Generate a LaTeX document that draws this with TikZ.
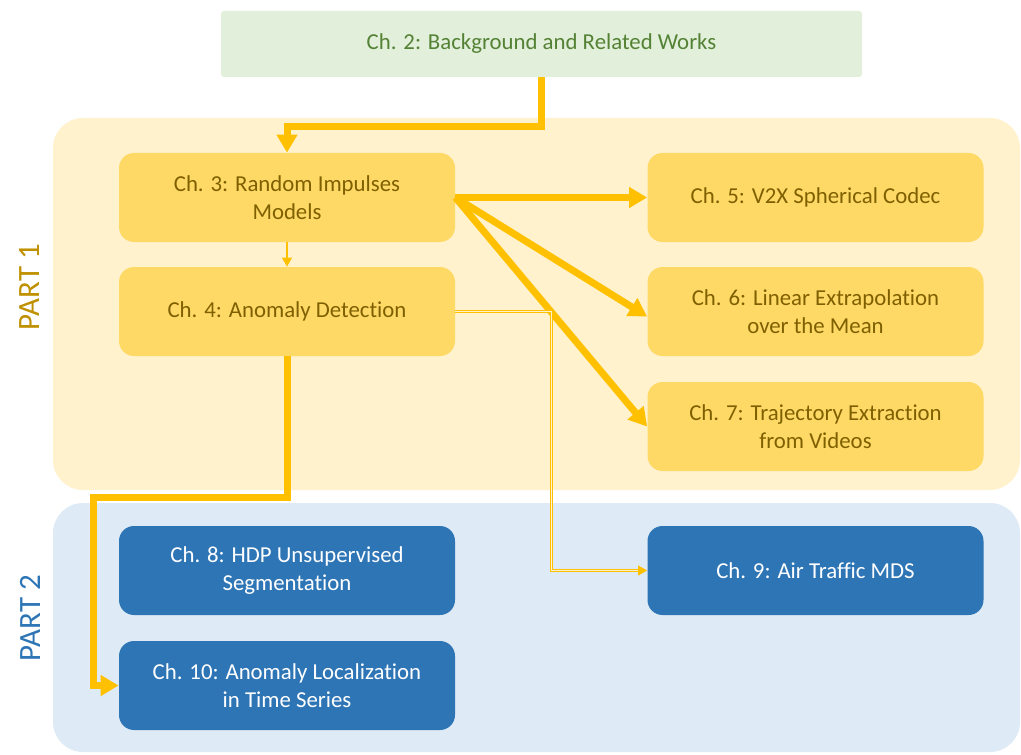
\documentclass[tikz,border=0pt]{standalone}
\usepackage{fontspec}
\setmainfont{Carlito}[Ligatures=NoCommon]
\usetikzlibrary{arrows.meta}
\definecolor{ylwdark}{HTML}{FFC000}
\definecolor{ylwbox}{HTML}{FFD966}
\definecolor{ylwback}{HTML}{FFF2CC}
\definecolor{ylwtext}{HTML}{7F6000}
\definecolor{ylwlabel}{HTML}{BF9000}
\definecolor{bluebox}{HTML}{2E75B6}
\definecolor{blueback}{HTML}{DEEAF6}
\definecolor{grnback}{HTML}{E2EFDA}
\definecolor{grntext}{HTML}{548235}
\begin{document}
\begin{tikzpicture} [x=0.5pt, y=-0.5pt,
    chap/.style={rounded corners=7.5pt, minimum width=168pt, minimum height=44.5pt, align=center, font=\fontsize{11.4}{14}\selectfont},
    ylwchap/.style={chap, fill=ylwbox, text=ylwtext},
    bluechap/.style={chap, fill=bluebox, text=white},
    thick arrow/.style={draw=ylwdark, line width=3.5pt, -{Triangle[width=10pt,length=9pt]}},
    thin arrow/.style={draw=ylwdark, line width=0.7pt, -{Triangle[width=5pt,length=4.5pt]}}]
      \useasboundingbox (0,0) rectangle (1021,754);
	\fill [ylwback, rounded corners=15pt] (53,118) rectangle (1020,490);
	\fill [blueback, rounded corners=15pt] (53,503) rectangle (1020,752);
	\node [rotate=90, text=ylwlabel, font=\fontsize{15.5}{18}\selectfont] (part1) at (30,287) {PART 1};
	\node [rotate=90, text=bluebox, font=\fontsize{15.5}{18}\selectfont] (part2) at (30,618) {PART 2};
	\node [chap, rounded corners=1.5pt, fill=grnback, text=grntext, minimum width=320.5pt, minimum height=33pt] (ch2) at (541.5,44) {Ch. 2: Background and Related Works};
	\node [ylwchap] (ch3) at (287,197.5) {Ch. 3: Random Impulses\\Models};
	\node [ylwchap] (ch4) at (287,311.5) {Ch. 4: Anomaly Detection};
	\node [ylwchap] (ch5) at (815.5,197.5) {Ch. 5: V2X Spherical Codec};
	\node [ylwchap] (ch6) at (815.5,311.5) {Ch. 6: Linear Extrapolation\\over the Mean};
	\node [ylwchap] (ch7) at (815.5,426.5) {Ch. 7: Trajectory Extraction\\from Videos};
	\node [bluechap] (ch8) at (287,570.5) {Ch. 8: HDP Unsupervised\\Segmentation};
	\node [bluechap] (ch9) at (815.5,570.5) {Ch. 9: Air Traffic MDS};
	\node [bluechap] (ch10) at (287,685.5) {Ch. 10: Anomaly Localization\\in Time Series};
	\coordinate (turn1) at (93,497);
	\draw [thick arrow] (ch2.south) -- ++(0,49) -| (ch3.north);
	\draw [thin arrow] (ch3.south) -- (ch4.north);
	\draw [thick arrow] (ch3.east) -- (ch5.west);
	\draw [thick arrow] (ch3.east) -- ([yshift=-2.5pt]ch6.west);
	\draw [thick arrow] (ch3.east) -- (ch7.west);
	\draw [thin arrow, double=ylwback, double distance=0.6pt, line width=0.4pt] (ch4.east) -- ++(96,0) |- (ch9.west);
	\draw [thick arrow] (ch4.south) |- (turn1) |- (ch10.west);
   \end{tikzpicture}
\end{document}
